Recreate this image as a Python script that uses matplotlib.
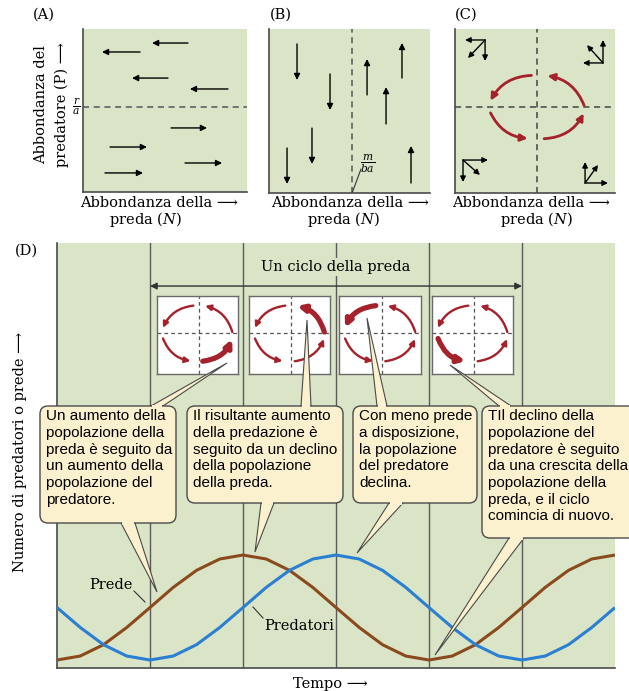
import matplotlib.pyplot as plt
from matplotlib.patches import FancyBboxPatch, Polygon, FancyArrowPatch

plt.rcParams['font.family'] = ['DejaVu Serif', 'DejaVu Sans']
plt.rcParams['mathtext.fontset'] = 'dejavuserif'

W, H = 629, 691
GREEN = '#dae5c7'
CREAM = '#fcf1cf'
RED = '#a5212b'
BROWN = '#8a4a1d'
BLUE = '#2a7fd2'
EDGE = '#4a4a4a'
SANS = 'Liberation Sans'

# ---- panel A: predator change (horizontal arrows in N, P space)
a_p = [9.14, 8.59, 6.99, 6.32, 3.93, 2.76, 1.78, 1.17]
a_n0 = [6.40, 3.48, 5.18, 8.84, 5.37, 1.65, 6.22, 1.34]
a_n1 = [4.21, 1.16, 2.99, 6.52, 7.56, 3.90, 8.48, 3.66]
a_isocline = 5.21  # r/a

# ---- panel B: vertical arrows
b_n = [1.74, 3.79, 2.67, 1.12, 6.09, 8.26, 7.27, 8.82]
b_p0 = [9.09, 7.26, 3.96, 2.74, 5.98, 7.01, 4.21, 0.61]
b_p1 = [6.89, 5.06, 1.77, 0.55, 8.17, 9.15, 6.46, 2.87]
b_isocline = 5.16  # m/ba

# ---- panel C: equilibrium and corner vectors
c_eq = (5.13, 5.24)
c_rx, c_ry = 2.94, 1.95
c_vn = [1.88, 9.25, 0.50, 8.13]
c_vp = [9.33, 7.93, 2.01, 0.61]
c_dn = [-1.25, -1.25, 1.56, 1.43]
c_dp = [-1.28, 1.40, -1.34, 1.28]
c_rn = [-1.07, -1.00, 1.06, 0.81]
c_rp = [-1.10, 1.09, -0.91, 1.10]

# ---- panel D: population curves
tempo = [0.0, 0.25, 0.5, 0.75, 1.0, 1.25, 1.5, 1.75, 2.0, 2.25, 2.5, 2.75,
         3.0, 3.25, 3.5, 3.75, 4.0, 4.25, 4.5, 4.75, 5.0, 5.25, 5.5, 5.75, 6.0]
prede = [0.38, 0.57, 1.11, 1.93, 2.88, 3.84, 4.65, 5.19, 5.38, 5.19, 4.65, 3.84,
         2.88, 1.93, 1.11, 0.57, 0.38, 0.57, 1.11, 1.93, 2.88, 3.84, 4.65, 5.19, 5.38]
predatori = [2.88, 1.93, 1.11, 0.57, 0.38, 0.57, 1.11, 1.93, 2.88, 3.84, 4.65, 5.19,
             5.38, 5.19, 4.65, 3.84, 2.88, 1.93, 1.11, 0.57, 0.38, 0.57, 1.11, 1.93, 2.88]
thick_arc = [3, 0, 1, 2]  # 0=TR, 1=TL, 2=BL, 3=BR

callout_text = [
    ["Un aumento della", "popolazione della", "preda è seguito da",
     "un aumento della", "popolazione del", "predatore."],
    ["Il risultante aumento", "della predazione è", "seguito da un declino",
     "della popolazione", "della preda."],
    ["Con meno prede", "a disposizione,", "la popolazione",
     "del predatore", "declina."],
    ["TIl declino della", "popolazione del", "predatore è seguito",
     "da una crescita della", "popolazione della", "preda, e il ciclo",
     "comincia di nuovo."],
]

# arc end points, as fractions of the ellipse radii (counter-clockwise)
ARC_ENDS = [((1.0, 0.05), (0.22, 0.98)),
            ((-0.12, 0.99), (-0.99, 0.2)),
            ((-0.99, -0.18), (-0.2, -0.98)),
            ((0.15, -0.99), (0.99, -0.2))]

fig = plt.figure(figsize=(W / 100, H / 100), dpi=100)


def px_axes(x0, y0, x1, y1, **kw):
    return fig.add_axes([x0 / W, 1 - y1 / H, (x1 - x0) / W, (y1 - y0) / H], **kw)


def style(ax, face=GREEN, spines=('left', 'bottom'), ec=EDGE, lw=1.2):
    ax.set_facecolor(face)
    for k, s in ax.spines.items():
        s.set_visible(k in spines)
        s.set_color(ec)
        s.set_linewidth(lw)
    ax.set_xticks([])
    ax.set_yticks([])


def arrow(ax, x0, y0, x1, y1, color='k', lw=1.0, ms=9):
    ax.annotate('', xy=(x1, y1), xytext=(x0, y0),
                arrowprops=dict(arrowstyle='-|>', color=color, lw=lw,
                                mutation_scale=ms, shrinkA=0, shrinkB=0))


def draw_cycle(ax, cx, cy, rx, ry, thick=None, lw=1.8, ms=9):
    for i, ((x0, y0), (x1, y1)) in enumerate(ARC_ENDS):
        big = (i == thick)
        ax.add_patch(FancyArrowPatch(
            (cx + x0 * rx, cy + y0 * ry), (cx + x1 * rx, cy + y1 * ry),
            connectionstyle='arc3,rad=0.28', arrowstyle='-|>',
            mutation_scale=ms * (1.2 if big else 1.0), lw=lw * (2.2 if big else 1.0),
            color=RED, shrinkA=0, shrinkB=0, zorder=4))


# ---------------- panel A
axA = px_axes(83, 29, 247, 192)
style(axA)
axA.set_xlim(0, 10)
axA.set_ylim(0, 10)
axA.axhline(a_isocline, color='#555555', lw=1.1, ls=(0, (4, 3)))
for p, n0, n1 in zip(a_p, a_n0, a_n1):
    arrow(axA, n0, p, n1, p)

# ---------------- panel B
axB = px_axes(269, 29, 430, 193)
style(axB)
axB.set_xlim(0, 10)
axB.set_ylim(0, 10)
axB.axvline(b_isocline, color='#555555', lw=1.1, ls=(0, (4, 3)))
for n, p0, p1 in zip(b_n, b_p0, b_p1):
    arrow(axB, n, p0, n, p1)
axB.plot([b_isocline, b_isocline + 0.55], [0, 1.45], color='#333333', lw=0.8)

# ---------------- panel C
axC = px_axes(455, 29, 615, 193)
style(axC)
axC.set_xlim(0, 10)
axC.set_ylim(0, 10)
axC.axvline(c_eq[0], color='#444444', lw=1.1, ls=(0, (4, 3)))
axC.axhline(c_eq[1], color='#444444', lw=1.1, ls=(0, (4, 3)))
for n, p, dn, dp, rn, rp in zip(c_vn, c_vp, c_dn, c_dp, c_rn, c_rp):
    arrow(axC, n, p, n + dn, p, ms=8)
    arrow(axC, n, p, n, p + dp, ms=8)
    arrow(axC, n, p, n + rn, p + rp, ms=8)
draw_cycle(axC, c_eq[0], c_eq[1], c_rx, c_ry, lw=2.0, ms=10)

# ---------------- panel D
axD = px_axes(57, 243, 615, 668)
style(axD)
axD.set_xlim(0, 6)
axD.set_ylim(0, 20.24)
for t in [1, 2, 3, 4, 5]:
    axD.axvline(t, color='#5a5a5a', lw=1.0, zorder=1)
axD.plot(tempo, prede, color=BROWN, lw=2.2, zorder=3, solid_capstyle='butt')
axD.plot(tempo, predatori, color=BLUE, lw=2.2, zorder=3, solid_capstyle='butt')
axD.annotate('', xy=(1, 18.19), xytext=(5, 18.19),
             arrowprops=dict(arrowstyle='<|-|>', color='#333333', lw=1.0,
                             mutation_scale=10, shrinkA=0, shrinkB=0), zorder=4)
axD.text(3, 19.1, 'Un ciclo della preda', ha='center', va='center', fontsize=10.5,
         zorder=5, bbox=dict(facecolor=GREEN, edgecolor='none', pad=1.5))

# cycle snapshots
for (x0, x1), thick in zip([(157, 238), (249, 330), (339, 421), (432, 513)], thick_arc):
    m = px_axes(x0, 296, x1, 374)
    style(m, face='white', spines=('left', 'right', 'top', 'bottom'), ec='#6a6a6a', lw=1.0)
    m.set_xlim(0, 1)
    m.set_ylim(0, 1)
    m.axvline(0.52, color='#555555', lw=0.9, ls=(0, (3, 2.5)))
    m.axhline(0.53, color='#555555', lw=0.9, ls=(0, (3, 2.5)))
    draw_cycle(m, 0.5, 0.52, 0.43, 0.36, thick=thick, lw=1.7, ms=8)

# ---------------- overlay for labels and callouts
ov = fig.add_axes([0, 0, 1, 1])
ov.set_xlim(0, W)
ov.set_ylim(H, 0)
ov.axis('off')

fs = 10.5
for lab, x, y in [('(A)', 33, 15), ('(B)', 270, 15), ('(C)', 455, 15), ('(D)', 15, 251)]:
    ov.text(x, y, lab, ha='left', va='center', fontsize=fs)

ov.text(41, 105, 'Abbondanza del', rotation=90, ha='center', va='center', fontsize=fs)
ov.text(62, 105, 'predatore (P) ⟶', rotation=90, ha='center', va='center', fontsize=fs)
ov.text(76, 107, r'$\frac{r}{a}$', ha='center', va='center', fontsize=11)
ov.text(368, 164, r'$\frac{m}{ba}$', ha='center', va='center', fontsize=11)

for x_left, x_mid in [(80, 145), (271, 343), (452, 536)]:
    ov.text(x_left, 203, 'Abbondanza della ⟶', ha='left', va='center', fontsize=fs)
    ov.text(x_mid, 219, r'preda ($N$)', ha='center', va='center', fontsize=fs)

ov.text(20, 452, 'Numero di predatori o prede ⟶', rotation=90, ha='center',
        va='center', fontsize=fs)
ov.text(330, 684, 'Tempo ⟶', ha='center', va='center', fontsize=fs)

ov.text(133, 585, 'Prede', ha='right', va='center', fontsize=fs)
ov.plot([134, 145], [591, 602], color='#333333', lw=0.8)
ov.text(264, 626, 'Predatori', ha='left', va='center', fontsize=fs)
ov.plot([253, 263], [607, 618], color='#333333', lw=0.8)

# callouts: box (x0, y0, x1, y1), tails ((base x0, base x1, base y), tip)
boxes = [(40, 406, 176, 523), (187, 406, 343, 503), (353, 406, 477, 503), (482, 406, 640, 538)]
tails = [
    [((151, 163, 406), (227, 363)), ((121, 135, 523), (157, 592))],
    [((301, 311, 406), (307, 320)), ((261, 274, 503), (255, 552))],
    [((377, 387, 406), (367, 318)), ((389, 403, 503), (357, 553))],
    [((499, 511, 406), (450, 365)), ((509, 524, 538), (435, 655))],
]
for (x0, y0, x1, y1), tl, lines in zip(boxes, tails, callout_text):
    for (bx0, bx1, by), tip in tl:
        ov.add_patch(Polygon([(bx0, by), (bx1, by), tip], closed=True,
                             facecolor=CREAM, edgecolor=EDGE, lw=0.8, zorder=2))
    ov.add_patch(FancyBboxPatch((x0, y0), x1 - x0, y1 - y0,
                                boxstyle='round,pad=0,rounding_size=8',
                                facecolor=CREAM, edgecolor=EDGE, lw=1.0, zorder=3))
    for (bx0, bx1, by), tip in tl:
        ov.add_patch(Polygon([(bx0 + 1, by - 1.5), (bx1 - 1, by - 1.5),
                              (bx1 - 1, by + 1.5), (bx0 + 1, by + 1.5)],
                             closed=True, facecolor=CREAM, edgecolor='none', zorder=4))
    ov.text(x0 + 6, y0 + 3, '\n'.join(lines), ha='left', va='top', fontsize=11,
            family=SANS, linespacing=1.25, zorder=5)

fig.savefig('out.png', dpi=100)
